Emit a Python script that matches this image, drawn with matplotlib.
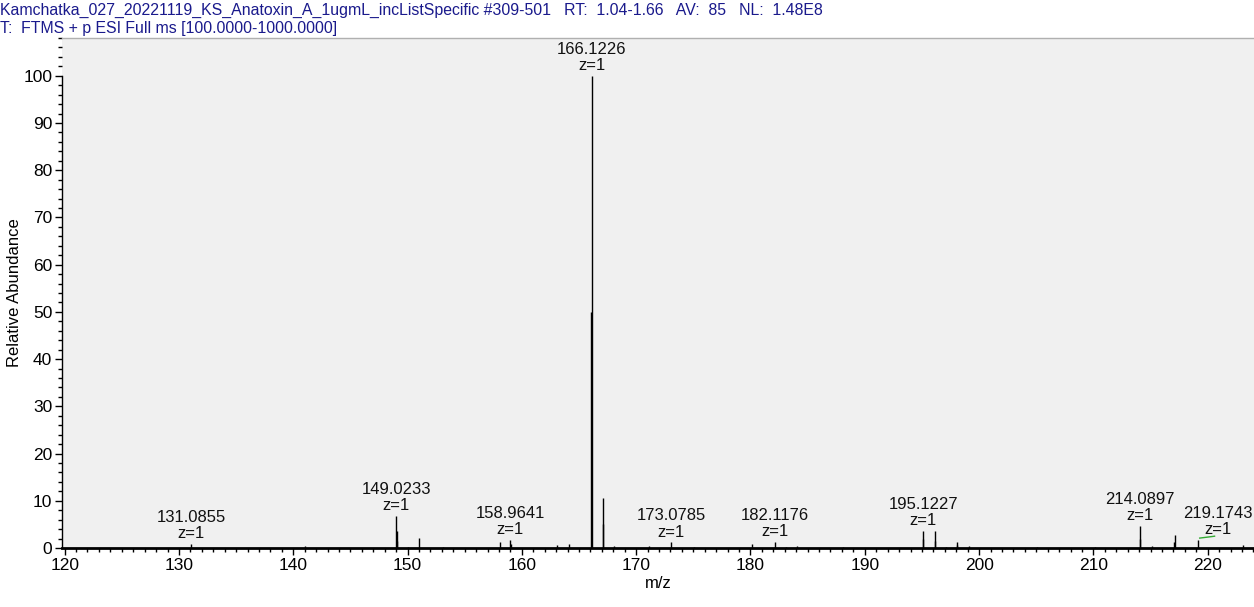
import matplotlib
matplotlib.use("Agg")
import matplotlib.pyplot as plt
from matplotlib.ticker import MultipleLocator

plt.rcParams["font.family"] = ["Liberation Sans", "DejaVu Sans"]
plt.rcParams["font.size"] = 12

# centroid peaks (m/z, relative abundance %)
peak_mz = [131.0855, 141.05, 149.0233, 149.06, 149.10, 150.05, 151.02, 153.10,
           158.10, 158.9641, 159.05, 163.10, 164.10, 166.09, 166.1226, 167.11,
           167.125, 168.10, 171.10, 173.0785, 175.10, 180.10, 182.1176, 183.10,
           184.10, 188.10, 195.10, 195.1227, 196.12, 196.16, 197.10, 198.05,
           198.10, 199.10, 205.10, 210.10, 214.07, 214.0897, 215.09, 217.08,
           217.10, 219.1743, 223.10]
peak_int = [0.8, 0.5, 6.8, 3.6, 1.5, 0.3, 2.1, 0.3,
            1.2, 1.8, 0.8, 0.6, 0.9, 50.0, 100.0, 5.1,
            10.6, 0.5, 0.4, 1.2, 0.3, 0.8, 1.3, 0.3,
            0.4, 0.3, 2.0, 3.6, 3.6, 1.5, 0.3, 0.6,
            1.2, 0.5, 0.3, 0.2, 2.0, 4.7, 0.5, 1.2,
            2.8, 1.7, 0.6]

label_mz = [131.0855, 149.0233, 158.9641, 166.1226, 173.0785, 182.1176,
            195.1227, 214.0897, 219.1743]
label_int = [0.8, 6.8, 1.8, 100.0, 1.2, 1.3, 3.6, 4.7, 1.7]
label_shift = {219.1743: 20}  # pixels, label pushed left of the frame edge

green_mz = [219.3, 220.3, 220.6]
green_int = [2.1, 2.4, 2.5]

title1 = ("Kamchatka_027_20221119_KS_Anatoxin_A_1ugmL_incListSpecific #309-501"
          "   RT:  1.04-1.66   AV:  85   NL:  1.48E8")
title2 = "T:  FTMS + p ESI Full ms [100.0000-1000.0000]"

fig = plt.figure(figsize=(12.54, 6.07), dpi=100)
ax = fig.add_axes([62 / 1254, 1 - 548 / 607, 1 - 62 / 1254, (548 - 38) / 607])
ax.set_facecolor("#f0f0f0")

ax.vlines(peak_mz, 0, peak_int, color="black", linewidth=1.0)
ax.plot(green_mz, green_int, color="#33aa33", linewidth=1.0)

for mz, h in zip(label_mz, label_int):
    dx = label_shift.get(mz, 0)
    ax.annotate(f"{mz:.4f}\nz=1", xy=(mz, h), xytext=(dx * 0.72, 2),
                textcoords="offset points", ha="center", va="bottom",
                fontsize=12, linespacing=1.1, color="#111111")

ax.set_xlim(119.77, 224.05)
ax.set_ylim(0, 108)

ax.xaxis.set_major_locator(MultipleLocator(10))
ax.xaxis.set_minor_locator(MultipleLocator(1))
ax.yaxis.set_major_locator(MultipleLocator(10))
ax.yaxis.set_minor_locator(MultipleLocator(2))
ax.set_yticks(range(0, 101, 10))
ax.tick_params(axis="both", which="major", length=5, width=1, direction="out",
               labelsize=12.5, pad=2)
ax.tick_params(axis="both", which="minor", length=3, width=1, direction="out")

for s in ["top", "right"]:
    ax.spines[s].set_visible(False)
ax.spines["left"].set_bounds(0, 100)
ax.spines["left"].set_linewidth(1)
ax.spines["bottom"].set_linewidth(2)
ax.axhline(108, color="#b0b0b0", linewidth=1, clip_on=False)

ax.set_xlabel("m/z", fontsize=12, labelpad=2)
ax.set_ylabel("Relative Abundance", fontsize=12, labelpad=1)

fig.text(0.0, 1 - 10 / 607, title1, color="#1a1a8c", fontsize=11.4, va="center")
fig.text(0.0, 1 - 28 / 607, title2, color="#1a1a8c", fontsize=11.4, va="center")

fig.savefig("out.png", dpi=100)
